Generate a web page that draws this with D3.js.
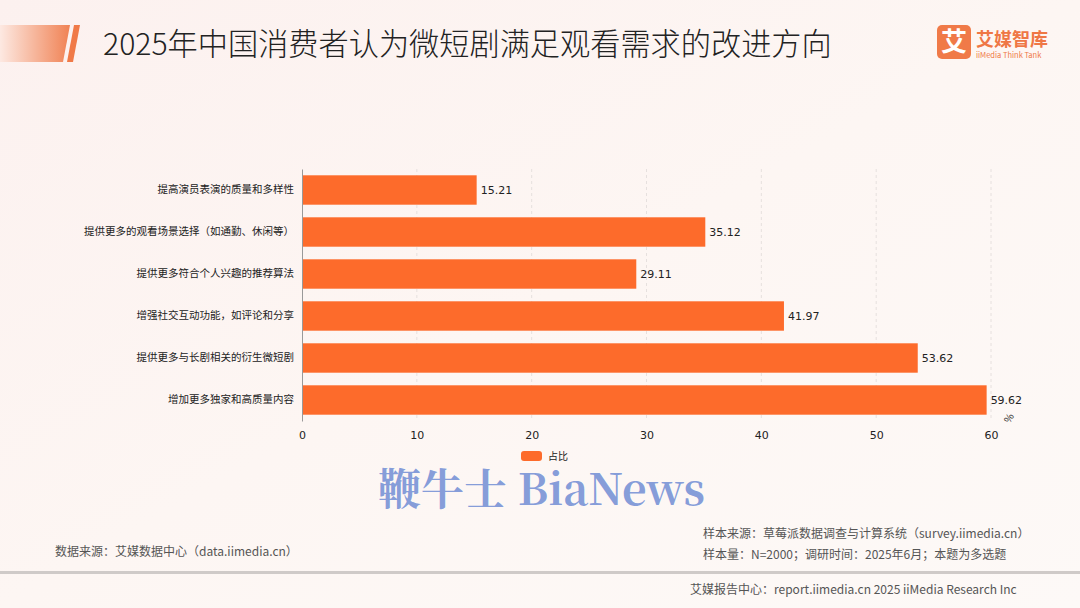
<!DOCTYPE html>
<html><head><meta charset="utf-8">
<script src="https://cdn.jsdelivr.net/npm/d3@7"></script>
<style>
body{margin:0;background:#fdf5f3;}
svg{display:block;font-family:"Noto Sans CJK SC","Noto Sans",sans-serif;}
</style></head>
<body>
<svg id="c" width="1080" height="608"></svg>
<script>
const categories = ["提高演员表演的质量和多样性","提供更多的观看场景选择（如通勤、休闲等）","提供更多符合个人兴趣的推荐算法","增强社交互动功能，如评论和分享","提供更多与长剧相关的衍生微短剧","增加更多独家和高质量内容"];
const values = [15.21, 35.12, 29.11, 41.97, 53.62, 59.62];
const xTicks = [0,10,20,30,40,50,60];
const seriesName = "占比";
const title = "2025年中国消费者认为微短剧满足观看需求的改进方向";

const svg = d3.select("#c");
const defs = svg.append("defs");
const bg = defs.append("linearGradient").attr("id","bg").attr("x1","0").attr("y1","0").attr("x2","1").attr("y2","1");
bg.append("stop").attr("offset","0").attr("stop-color","#fcf1ef");
bg.append("stop").attr("offset","0.5").attr("stop-color","#fdf6f3");
bg.append("stop").attr("offset","1").attr("stop-color","#fdf9f7");
svg.append("rect").attr("width",1080).attr("height",608).attr("fill","url(#bg)");

const hg = defs.append("linearGradient").attr("id","hg").attr("x1","0").attr("x2","1");
hg.append("stop").attr("offset","0").attr("stop-color","#fde9e2");
hg.append("stop").attr("offset","1").attr("stop-color","#f08254");
svg.append("path").attr("d","M0,25 L70,25 L63,62 L0,62 Z").attr("fill","url(#hg)");
svg.append("path").attr("d","M74,25 L80,25 L73,62 L67,62 Z").attr("fill","#f07a48");

svg.append("text").attr("x",103).attr("y",55).attr("font-size",30.2).attr("font-weight",300).attr("fill","#222").text(title);

// logo
svg.append("rect").attr("x",937).attr("y",25).attr("width",34).attr("height",34).attr("rx",5).attr("fill","#f07a48");
svg.append("text").attr("x",954).attr("y",51).attr("text-anchor","middle").attr("font-size",26).attr("font-weight","bold").attr("fill","#fff").text("艾");
svg.append("text").attr("x",976).attr("y",46).attr("font-size",18).attr("font-weight","bold").attr("fill","#ef7745").text("艾媒智库");
svg.append("text").attr("x",976).attr("y",58).attr("font-size",7.5).attr("fill","#ef7745").text("iiMedia Think Tank");

const x = d3.scaleLinear().domain([0,60]).range([302,991]);
const y = d3.scaleBand().domain(categories).range([169,421]).paddingInner(0.3).paddingOuter(0.15);

const g = svg.append("g");
g.selectAll("line.grid").data(xTicks.slice(1)).join("line")
  .attr("x1",d=>x(d)).attr("x2",d=>x(d)).attr("y1",169).attr("y2",421)
  .attr("stroke","#e6e0de").attr("stroke-dasharray","3,3");

g.selectAll("rect.bar").data(values).join("rect")
  .attr("x",x(0)).attr("y",(d,i)=>y(categories[i]))
  .attr("width",d=>x(d)-x(0)).attr("height",y.bandwidth())
  .attr("fill","#fd6b2b");

g.selectAll("text.val").data(values).join("text")
  .attr("x",d=>x(d)+4).attr("y",(d,i)=>y(categories[i])+y.bandwidth()/2+4)
  .attr("font-size",11).attr("fill","#222").attr("font-family","DejaVu Sans")
  .text(d=>d.toFixed(2));

const ya = d3.axisLeft(y).tickSize(0).tickPadding(8);
const yg = svg.append("g").attr("transform",`translate(${x(0)},0)`).call(ya);
yg.select(".domain").attr("stroke","#999");
yg.selectAll("text").attr("font-size",10.5).attr("fill","#222").attr("font-family","Noto Sans CJK SC");

const xa = d3.axisBottom(x).tickValues(xTicks).tickSize(0).tickPadding(10);
const xg = svg.append("g").attr("transform","translate(0,421)").call(xa);
xg.select(".domain").remove();
xg.selectAll("text").attr("font-size",11).attr("fill","#222").attr("font-family","DejaVu Sans");
svg.append("text").attr("transform","translate(1012,420) rotate(-60)").attr("text-anchor","middle").attr("font-size",10).attr("fill","#222").text("%");

// legend
svg.append("rect").attr("x",521).attr("y",451).attr("width",21).attr("height",10).attr("rx",3).attr("fill","#fd6b2b");
svg.append("text").attr("x",548).attr("y",459.5).attr("font-size",10).attr("fill","#222").text(seriesName);

// watermark
svg.append("text").attr("x",378).attr("y",505).attr("font-size",43).attr("font-weight","bold").attr("font-family","Noto Serif CJK SC, DejaVu Serif, serif").attr("fill","#7f98d8").attr("fill-opacity",0.95).text("鞭牛士 BiaNews");

// footer
const ft = (x0,y0,t)=>svg.append("text").attr("x",x0).attr("y",y0).attr("font-size",12).attr("fill","#555").text(t);
ft(55,556,"数据来源：艾媒数据中心（data.iimedia.cn）");
ft(703,538,"样本来源：草莓派数据调查与计算系统（survey.iimedia.cn）");
ft(703,559,"样本量：N=2000；调研时间：2025年6月；本题为多选题");
svg.append("rect").attr("x",0).attr("y",571).attr("width",1080).attr("height",3).attr("fill","#cfcac8");
ft(690,594,"艾媒报告中心：report.iimedia.cn   2025 iiMedia Research Inc");
</script>
</body></html>
